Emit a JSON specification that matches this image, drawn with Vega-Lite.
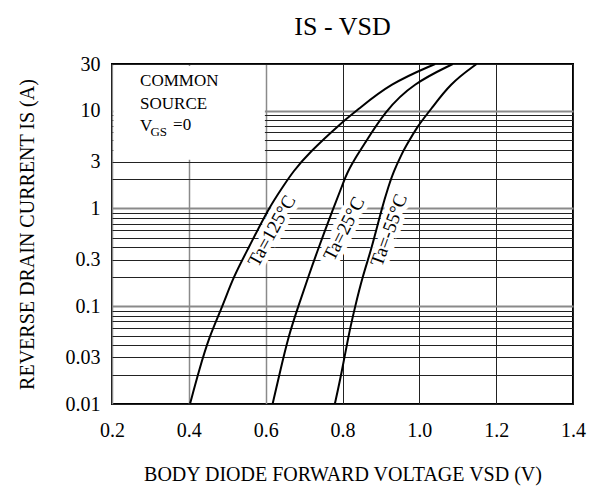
{
  "$schema": "https://vega.github.io/schema/vega-lite/v6.json",
  "width": 461,
  "height": 340,
  "autosize": "none",
  "padding": {"left": 112, "top": 64, "right": 19, "bottom": 82},
  "background": "white",
  "title": {"text": "IS  -  VSD", "fontSize": 26, "fontWeight": "normal", "color": "black", "offset": 14, "anchor": "middle"},
  "config": {
    "font": "Liberation Serif",
    "view": {"stroke": "black", "strokeWidth": 2}
  },
  "datasets": {
    "curves": [
      {"series": "Ta=125°C", "vsd": 0.403, "is": 0.01},
      {"series": "Ta=125°C", "vsd": 0.425, "is": 0.021},
      {"series": "Ta=125°C", "vsd": 0.453, "is": 0.049},
      {"series": "Ta=125°C", "vsd": 0.488, "is": 0.10},
      {"series": "Ta=125°C", "vsd": 0.516, "is": 0.20},
      {"series": "Ta=125°C", "vsd": 0.555, "is": 0.39},
      {"series": "Ta=125°C", "vsd": 0.607, "is": 1.0},
      {"series": "Ta=125°C", "vsd": 0.648, "is": 1.74},
      {"series": "Ta=125°C", "vsd": 0.670, "is": 2.34},
      {"series": "Ta=125°C", "vsd": 0.711, "is": 3.66},
      {"series": "Ta=125°C", "vsd": 0.800, "is": 7.7},
      {"series": "Ta=125°C", "vsd": 0.837, "is": 10},
      {"series": "Ta=125°C", "vsd": 0.924, "is": 19},
      {"series": "Ta=125°C", "vsd": 1.041, "is": 30},
      {"series": "Ta=25°C", "vsd": 0.618, "is": 0.01},
      {"series": "Ta=25°C", "vsd": 0.637, "is": 0.021},
      {"series": "Ta=25°C", "vsd": 0.659, "is": 0.049},
      {"series": "Ta=25°C", "vsd": 0.685, "is": 0.10},
      {"series": "Ta=25°C", "vsd": 0.711, "is": 0.20},
      {"series": "Ta=25°C", "vsd": 0.737, "is": 0.39},
      {"series": "Ta=25°C", "vsd": 0.776, "is": 1.0},
      {"series": "Ta=25°C", "vsd": 0.800, "is": 1.74},
      {"series": "Ta=25°C", "vsd": 0.812, "is": 2.34},
      {"series": "Ta=25°C", "vsd": 0.841, "is": 3.66},
      {"series": "Ta=25°C", "vsd": 0.851, "is": 4.18},
      {"series": "Ta=25°C", "vsd": 0.911, "is": 10},
      {"series": "Ta=25°C", "vsd": 0.984, "is": 19},
      {"series": "Ta=25°C", "vsd": 1.087, "is": 30},
      {"series": "Ta=-55°C", "vsd": 0.780, "is": 0.01},
      {"series": "Ta=-55°C", "vsd": 0.798, "is": 0.021},
      {"series": "Ta=-55°C", "vsd": 0.815, "is": 0.049},
      {"series": "Ta=-55°C", "vsd": 0.833, "is": 0.10},
      {"series": "Ta=-55°C", "vsd": 0.852, "is": 0.20},
      {"series": "Ta=-55°C", "vsd": 0.876, "is": 0.39},
      {"series": "Ta=-55°C", "vsd": 0.902, "is": 1.0},
      {"series": "Ta=-55°C", "vsd": 0.921, "is": 1.74},
      {"series": "Ta=-55°C", "vsd": 0.932, "is": 2.34},
      {"series": "Ta=-55°C", "vsd": 0.955, "is": 3.66},
      {"series": "Ta=-55°C", "vsd": 0.963, "is": 4.18},
      {"series": "Ta=-55°C", "vsd": 0.997, "is": 7.14},
      {"series": "Ta=-55°C", "vsd": 1.028, "is": 10},
      {"series": "Ta=-55°C", "vsd": 1.080, "is": 19},
      {"series": "Ta=-55°C", "vsd": 1.149, "is": 30}
    ],
    "one": [{}]
  },
  "layer": [
    {
      "data": {"name": "curves"},
      "mark": {"type": "line", "color": "black", "strokeWidth": 2, "interpolate": "basis", "clip": true, "opacity": 0},
      "encoding": {
        "x": {
          "field": "vsd", "type": "quantitative",
          "scale": {"domain": [0.2, 1.4], "nice": false, "zero": false},
          "axis": {
            "title": "BODY DIODE FORWARD VOLTAGE VSD  (V)",
            "titleFontSize": 20, "titleFontWeight": "normal", "titleColor": "black", "titlePadding": 24,
            "labelFontSize": 20, "labelColor": "black", "labelPadding": 16,
            "ticks": false, "tickSize": 0, "domain": false,
            "values": [0.2, 0.4, 0.6, 0.8, 1.0, 1.2, 1.4],
            "format": ".1f", "labelOverlap": false, "labelFlush": false,
            "grid": true,
            "gridColor": {"condition": {"test": "datum.value < 0.7", "value": "#8a8a8a"}, "value": "#222222"},
            "gridWidth": {"condition": {"test": "datum.value < 0.7", "value": 1.5}, "value": 1},
            "gridOpacity": 1
          }
        },
        "y": {
          "field": "is", "type": "quantitative",
          "scale": {"type": "log", "domain": [0.01, 30], "nice": false},
          "axis": {
            "title": "REVERSE DRAIN CURRENT IS  (A)",
            "titleFontSize": 20, "titleFontWeight": "normal", "titleColor": "black", "titlePadding": 28,
            "labelFontSize": 20, "labelColor": "black", "labelPadding": 12,
            "ticks": false, "tickSize": 0, "domain": false,
            "values": [0.01, 0.02, 0.03, 0.04, 0.05, 0.06, 0.07, 0.08, 0.09, 0.1, 0.2, 0.3, 0.4, 0.5, 0.6, 0.7, 0.8, 0.9, 1, 2, 3, 4, 5, 6, 7, 8, 9, 10, 30],
            "labelExpr": "indexof([0.01, 0.03, 0.1, 0.3, 1, 3, 10, 30], datum.value) >= 0 ? format(datum.value, '~g') : ''",
            "labelOverlap": false, "labelFlush": false,
            "grid": true,
            "gridColor": {"condition": {"test": "indexof([0.1, 1, 10], datum.value) >= 0", "value": "#8a8a8a"}, "value": "#222222"},
            "gridWidth": {"condition": {"test": "indexof([0.1, 1, 10], datum.value) >= 0", "value": 2}, "value": 1},
            "gridOpacity": 1
          }
        },
        "detail": {"field": "series", "type": "nominal"}
      }
    },
    {
      "data": {"name": "one"},
      "mark": {"type": "rect", "fill": "white", "stroke": null},
      "encoding": {
        "x": {"datum": 0.2035, "type": "quantitative"},
        "x2": {"datum": 0.598},
        "y": {"datum": 3.15, "type": "quantitative"},
        "y2": {"datum": 28.6}
      }
    },
    {
      "data": {"name": "one"},
      "mark": {"type": "text", "text": "Ta=125°C", "angle": -61, "fontSize": 19, "align": "center", "baseline": "middle", "stroke": "white", "strokeWidth": 10, "fill": "white"},
      "encoding": {"x": {"datum": 0.616, "type": "quantitative"}, "y": {"datum": 0.59, "type": "quantitative"}}
    },
    {
      "data": {"name": "one"},
      "mark": {"type": "text", "text": "Ta=25°C", "angle": -63, "fontSize": 19, "align": "center", "baseline": "middle", "stroke": "white", "strokeWidth": 10, "fill": "white"},
      "encoding": {"x": {"datum": 0.804, "type": "quantitative"}, "y": {"datum": 0.62, "type": "quantitative"}}
    },
    {
      "data": {"name": "one"},
      "mark": {"type": "text", "text": "Ta=-55°C", "angle": -70, "fontSize": 19, "align": "center", "baseline": "middle", "stroke": "white", "strokeWidth": 10, "fill": "white"},
      "encoding": {"x": {"datum": 0.921, "type": "quantitative"}, "y": {"datum": 0.60, "type": "quantitative"}}
    },
    {
      "data": {"name": "curves"},
      "mark": {"type": "line", "color": "black", "strokeWidth": 2, "interpolate": "basis", "clip": true},
      "encoding": {
        "x": {"field": "vsd", "type": "quantitative"},
        "y": {"field": "is", "type": "quantitative"},
        "detail": {"field": "series", "type": "nominal"}
      }
    },
    {
      "data": {"name": "one"},
      "mark": {"type": "text", "text": "Ta=125°C", "angle": -61, "fontSize": 19, "align": "center", "baseline": "middle", "color": "black"},
      "encoding": {"x": {"datum": 0.616, "type": "quantitative"}, "y": {"datum": 0.59, "type": "quantitative"}}
    },
    {
      "data": {"name": "one"},
      "mark": {"type": "text", "text": "Ta=25°C", "angle": -63, "fontSize": 19, "align": "center", "baseline": "middle", "color": "black"},
      "encoding": {"x": {"datum": 0.804, "type": "quantitative"}, "y": {"datum": 0.62, "type": "quantitative"}}
    },
    {
      "data": {"name": "one"},
      "mark": {"type": "text", "text": "Ta=-55°C", "angle": -70, "fontSize": 19, "align": "center", "baseline": "middle", "color": "black"},
      "encoding": {"x": {"datum": 0.921, "type": "quantitative"}, "y": {"datum": 0.60, "type": "quantitative"}}
    },
    {
      "data": {"name": "one"},
      "mark": {"type": "text", "text": "COMMON", "fontSize": 17, "align": "left", "baseline": "middle", "color": "black"},
      "encoding": {"x": {"datum": 0.273, "type": "quantitative"}, "y": {"datum": 20, "type": "quantitative"}}
    },
    {
      "data": {"name": "one"},
      "mark": {"type": "text", "text": "SOURCE", "fontSize": 17, "align": "left", "baseline": "middle", "color": "black"},
      "encoding": {"x": {"datum": 0.273, "type": "quantitative"}, "y": {"datum": 11.7, "type": "quantitative"}}
    },
    {
      "data": {"name": "one"},
      "mark": {"type": "text", "text": "V", "fontSize": 17, "align": "left", "baseline": "middle", "color": "black"},
      "encoding": {"x": {"datum": 0.273, "type": "quantitative"}, "y": {"datum": 6.9, "type": "quantitative"}}
    },
    {
      "data": {"name": "one"},
      "mark": {"type": "text", "text": "GS", "fontSize": 13, "align": "left", "baseline": "middle", "color": "black"},
      "encoding": {"x": {"datum": 0.300, "type": "quantitative"}, "y": {"datum": 6.1, "type": "quantitative"}}
    },
    {
      "data": {"name": "one"},
      "mark": {"type": "text", "text": "=0", "fontSize": 17, "align": "left", "baseline": "middle", "color": "black"},
      "encoding": {"x": {"datum": 0.359, "type": "quantitative"}, "y": {"datum": 7.1, "type": "quantitative"}}
    }
  ]
}
